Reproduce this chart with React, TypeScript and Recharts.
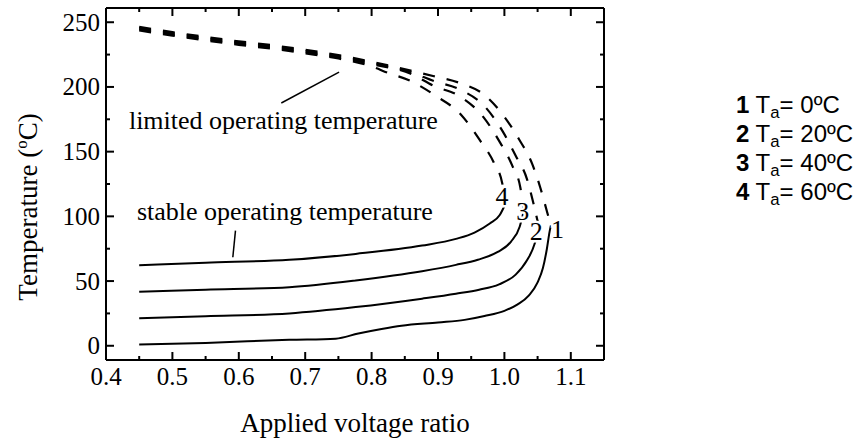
import React from 'react';
import { ComposedChart, Line, XAxis, YAxis, ReferenceLine, ReferenceDot, Label } from 'recharts';

type Pt = [number, number];

// solid branches (stable operating temperature), one per ambient temperature
const stableTa0: Pt[] = [[0.45, 1], [0.55, 2.2], [0.676, 4.6], [0.746, 5.5], [0.78, 9.5], [0.815, 13], [0.845, 15.5], [0.9, 18], [0.94, 20], [0.97, 23], [1.0, 27], [1.02, 32], [1.037, 39], [1.05, 49], [1.058, 60], [1.064, 75], [1.068, 88], [1.07, 93]];
const stableTa20: Pt[] = [[0.45, 21.2], [0.55, 22.8], [0.676, 25], [0.776, 29.9], [0.876, 36.4], [0.927, 40.2], [0.962, 43.3], [0.992, 47.5], [1.017, 55], [1.034, 66], [1.045, 78], [1.05, 88], [1.051, 94]];
const stableTa40: Pt[] = [[0.45, 41.7], [0.55, 43.3], [0.676, 45.3], [0.776, 50.5], [0.876, 57.6], [0.927, 62.5], [0.96, 66.5], [0.99, 72.5], [1.01, 80.5], [1.023, 92], [1.029, 104]];
const stableTa60: Pt[] = [[0.45, 62.3], [0.55, 64.2], [0.676, 66.4], [0.776, 71], [0.876, 77.4], [0.927, 82.6], [0.955, 87.5], [0.978, 94.5], [0.993, 101], [1.0, 108]];

// dashed branches (limited operating temperature)
const limitTa0: Pt[] = [[0.45, 246.35], [0.5, 242.35], [0.55, 238.65], [0.6, 235.25], [0.65, 232.25], [0.7, 228.65], [0.75, 224.65], [0.8, 219.5], [0.859, 212.6], [0.894, 208.3], [0.932, 203.2], [0.97, 193.8], [0.999, 177.6], [1.022, 159.6], [1.042, 140.4], [1.054, 122.3], [1.064, 104], [1.07, 93]];
const limitTa20: Pt[] = [[0.45, 245.45], [0.5, 241.45], [0.55, 237.75], [0.6, 234.35], [0.65, 231.35], [0.7, 227.75], [0.75, 223.75], [0.8, 218.6], [0.859, 211.4], [0.894, 204.5], [0.932, 198.2], [0.972, 184], [0.997, 166], [1.017, 146.8], [1.034, 128.8], [1.044, 109.5], [1.051, 94]];
const limitTa40: Pt[] = [[0.45, 244.55], [0.5, 240.55], [0.55, 236.85], [0.6, 233.45], [0.65, 230.45], [0.7, 226.85], [0.75, 222.85], [0.8, 217.6], [0.859, 210.2], [0.894, 200.7], [0.932, 193], [0.969, 176.3], [0.992, 158.3], [1.012, 139], [1.024, 122.3], [1.029, 104]];
const limitTa60: Pt[] = [[0.45, 243.65], [0.5, 239.65], [0.55, 235.95], [0.6, 232.55], [0.65, 229.55], [0.7, 225.95], [0.75, 221.95], [0.8, 215.8], [0.824, 211], [0.859, 204.5], [0.897, 193], [0.934, 178.9], [0.962, 159.6], [0.984, 141.6], [0.997, 125], [1.0, 108]];

const xTicks = [0.4, 0.45, 0.5, 0.55, 0.6, 0.65, 0.7, 0.75, 0.8, 0.85, 0.9, 0.95, 1.0, 1.05, 1.1, 1.15];
const yTicks = [0, 25, 50, 75, 100, 125, 150, 175, 200, 225, 250];

const curveNames = ['1', '2', '3', '4'];
const curveTemps = ['0', '20', '40', '60'];
const curveLabelPos: Pt[] = [[1.08, 90.4], [1.048, 88.8], [1.0276, 104.4], [0.9965, 115.4]];

const noteTexts = ['limited operating temperature', 'stable operating temperature'];
const notePos: Pt[] = [[0.4345, 167.6], [0.4465, 97.5]];
const pointerFrom: Pt[] = [[0.664, 187.6], [0.595, 89]];
const pointerTo: Pt[] = [[0.751, 211.5], [0.591, 68.4]];

const stableCurves = [stableTa0, stableTa20, stableTa40, stableTa60];
const limitCurves = [limitTa0, limitTa20, limitTa40, limitTa60];

const SERIF = '"Liberation Serif", "Times New Roman", serif';
const SANS = '"Liberation Sans", Arial, sans-serif';

const toRows = (pts: Pt[]) => pts.map(([x, y]) => ({ x, y }));
const isMajorX = (v: number) => Math.round(v * 100) % 10 === 0;

function BottomTick(props: any) {
    const { x, y, payload } = props;
    const major = isMajorX(payload.value);
    return (
        <g>
            <line x1={x} y1={y} x2={x} y2={y - (major ? 8 : 4)} stroke="#000" strokeWidth={2} />
            {major && (
                <text x={x} y={y + 24.5} textAnchor="middle" style={{ fontFamily: SERIF, fontSize: 25 }} fill="#000">
                    {payload.value.toFixed(1)}
                </text>
            )}
        </g>
    );
}

function TopTick(props: any) {
    const { x, y, payload } = props;
    const major = isMajorX(payload.value);
    return <line x1={x} y1={y} x2={x} y2={y + (major ? 8 : 4)} stroke="#000" strokeWidth={2} />;
}

function LeftTick(props: any) {
    const { x, y, payload } = props;
    const major = payload.value % 50 === 0;
    return (
        <g>
            <line x1={x} y1={y} x2={x + (major ? 8 : 4)} y2={y} stroke="#000" strokeWidth={2} />
            {major && (
                <text x={x - 6} y={y + 8.5} textAnchor="end" style={{ fontFamily: SERIF, fontSize: 25 }} fill="#000">
                    {payload.value}
                </text>
            )}
        </g>
    );
}

function RightTick(props: any) {
    const { x, y, payload } = props;
    const major = payload.value % 50 === 0;
    return <line x1={x} y1={y} x2={x - (major ? 8 : 4)} y2={y} stroke="#000" strokeWidth={2} />;
}

const XTitle = (props: any) => {
    const vb = props.viewBox || { x: 106, width: 499 };
    return (
        <text x={vb.x + vb.width / 2} y={432} textAnchor="middle" style={{ fontFamily: SERIF, fontSize: 27 }} fill="#000">
            Applied voltage ratio
        </text>
    );
};

const YTitle = () => (
    <text x={37} y={207} transform="rotate(-90 37 207)" textAnchor="middle" style={{ fontFamily: SERIF, fontSize: 27 }} fill="#000">
        Temperature (<tspan dy={-10} fontSize={17}>o</tspan>
        <tspan dy={10}>C)</tspan>
    </text>
);

export default function App() {
    const axisLine = { stroke: '#000', strokeWidth: 2 };
    return (
        <div style={{ position: 'relative', width: 867, height: 443, background: '#fff' }}>
            <style>{'body{margin:0;background:#fff}'}</style>
            <ComposedChart width={867} height={443} margin={{ top: 7, right: 262, bottom: 23, left: 46 }}>
                <XAxis
                    xAxisId={0}
                    dataKey="x"
                    type="number"
                    domain={[0.4, 1.15]}
                    ticks={xTicks}
                    interval={0}
                    height={60}
                    tickSize={0}
                    tickMargin={0}
                    tickLine={false}
                    axisLine={axisLine}
                    tick={<BottomTick />}
                    allowDataOverflow
                >
                    <Label content={XTitle} />
                </XAxis>
                <XAxis
                    xAxisId="top"
                    orientation="top"
                    dataKey="x"
                    type="number"
                    domain={[0.4, 1.15]}
                    ticks={xTicks}
                    interval={0}
                    height={1}
                    tickSize={0}
                    tickMargin={0}
                    tickLine={false}
                    axisLine={axisLine}
                    tick={<TopTick />}
                    allowDataOverflow
                />
                <YAxis
                    yAxisId={0}
                    type="number"
                    domain={[-11, 261]}
                    ticks={yTicks}
                    interval={0}
                    width={60}
                    tickSize={0}
                    tickMargin={0}
                    tickLine={false}
                    axisLine={axisLine}
                    tick={<LeftTick />}
                    allowDataOverflow
                >
                    <Label content={YTitle} />
                </YAxis>
                <YAxis
                    yAxisId="right"
                    orientation="right"
                    type="number"
                    domain={[-11, 261]}
                    ticks={yTicks}
                    interval={0}
                    width={1}
                    tickSize={0}
                    tickMargin={0}
                    tickLine={false}
                    axisLine={axisLine}
                    tick={<RightTick />}
                    allowDataOverflow
                />

                {/* invisible copy bound to the mirror axes so they get drawn */}
                <Line
                    xAxisId="top"
                    yAxisId="right"
                    data={toRows(stableTa0)}
                    dataKey="y"
                    stroke="none"
                    dot={false}
                    activeDot={false}
                    isAnimationActive={false}
                />

                {limitCurves.map((pts, i) => (
                    <Line
                        key={'limit' + i}
                        data={toRows(pts)}
                        dataKey="y"
                        type="monotone"
                        stroke="#000"
                        strokeWidth={2.2}
                        strokeDasharray="12 12"
                        dot={false}
                        activeDot={false}
                        isAnimationActive={false}
                    />
                ))}
                {stableCurves.map((pts, i) => (
                    <Line
                        key={'stable' + i}
                        data={toRows(pts)}
                        dataKey="y"
                        type="monotone"
                        stroke="#000"
                        strokeWidth={2}
                        dot={false}
                        activeDot={false}
                        isAnimationActive={false}
                    />
                ))}

                {pointerFrom.map((p, i) => (
                    <ReferenceLine
                        key={'ptr' + i}
                        segment={[{ x: p[0], y: p[1] }, { x: pointerTo[i][0], y: pointerTo[i][1] }]}
                        stroke="#000"
                        strokeWidth={1.5}
                        ifOverflow="visible"
                    />
                ))}

                {noteTexts.map((t, i) => (
                    <ReferenceDot
                        key={'note' + i}
                        x={notePos[i][0]}
                        y={notePos[i][1]}
                        r={1}
                        ifOverflow="visible"
                        shape={(p: any) => (
                            <text x={p.cx} y={p.cy} style={{ fontFamily: SERIF, fontSize: 26 }} fill="#000">
                                {t}
                            </text>
                        )}
                    />
                ))}

                {curveNames.map((n, i) => (
                    <ReferenceDot
                        key={'num' + i}
                        x={curveLabelPos[i][0]}
                        y={curveLabelPos[i][1]}
                        r={1}
                        ifOverflow="visible"
                        shape={(p: any) => (
                            <text
                                x={p.cx}
                                y={p.cy + 9}
                                textAnchor="middle"
                                style={{ fontFamily: SERIF, fontSize: 26 }}
                                fill="#000"
                                stroke="#fff"
                                strokeWidth={5}
                                paintOrder="stroke"
                            >
                                {n}
                            </text>
                        )}
                    />
                ))}
            </ComposedChart>

            <div style={{ position: 'absolute', left: 736, top: 90, fontFamily: SANS, fontSize: 24, lineHeight: '29px', color: '#000' }}>
                {curveNames.map((n, i) => (
                    <div key={n} style={{ whiteSpace: 'nowrap', height: 29 }}>
                        <b>{n}</b> T<span style={{ fontSize: '0.7em', position: 'relative', top: '0.3em', lineHeight: 0 }}>a</span>= {curveTemps[i]}ºC
                    </div>
                ))}
            </div>
        </div>
    );
}
